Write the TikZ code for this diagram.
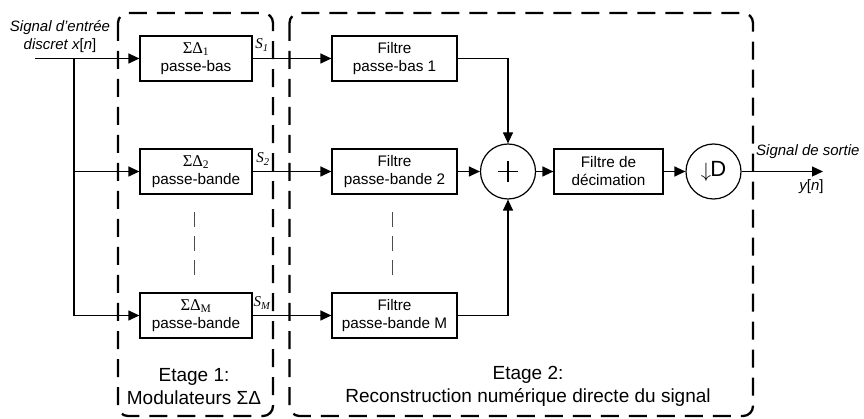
\documentclass[tikz,border=0pt]{standalone}
\usepackage{fontspec}
\setmainfont{Liberation Sans}
\newfontfamily\grserif{Liberation Serif}
\usetikzlibrary{arrows.meta}
\newcommand{\sdgreek}[1]{{\fontsize{16.5}{18}\selectfont\grserif ΣΔ\textsubscript{#1}}}
\tikzset{
  blk/.style={draw, line width=1.2pt, minimum width=#1, minimum height=45pt, align=center, inner sep=0pt, font=\fontsize{15.3}{18}\selectfont},
  circ/.style={draw, circle, line width=1.2pt, minimum size=55pt, inner sep=0pt},
  arr/.style={line width=1.2pt, -{Triangle[length=11pt,width=10pt]}},
  wire/.style={line width=1.2pt},
  dbox/.style={line width=2.3pt, dash pattern=on 18pt off 10pt, rounded corners=10pt},
  sepline/.style={line width=1pt, gray!60!black, dash pattern=on 15pt off 9pt},
  lbl/.style={font=\fontsize{15}{18}\selectfont, inner sep=0pt},
  stage/.style={align=center, font=\fontsize{19}{23}\selectfont, inner sep=0pt},
  slab/.style={font=\fontsize{15}{18}\selectfont\grserif\itshape, inner sep=0pt}
}
\begin{document}
\begin{tikzpicture}[x=1pt,y=-1pt]
\useasboundingbox (0,0) rectangle (864,419);
% dashed stage boxes
\draw[dbox] (118,13) rectangle (273,416);
\draw[dbox] (289.5,13) rectangle (753,416);
% modulators
\node[blk=112pt] (m1) at (196,58.5) {\sdgreek{1}\\passe-bas};
\node[blk=112pt] (m2) at (196,171.5) {\sdgreek{2}\\passe-bande};
\node[blk=112pt] (mM) at (196,315.5) {\sdgreek{M}\\passe-bande};
% filters
\node[blk=125pt] (f1) at (394.5,58.5) {Filtre\\passe-bas 1};
\node[blk=125pt] (f2) at (394.5,171.5) {Filtre\\passe-bande 2};
\node[blk=125pt] (fM) at (394.5,315.5) {Filtre\\passe-bande M};
% sum, decimation, downsampler
\node[circ] (sum) at (508,171.5) {};
\draw[wire] ([xshift=-10pt]sum.center) -- ([xshift=10pt]sum.center);
\draw[wire] ([yshift=-10.5pt]sum.center) -- ([yshift=10.5pt]sum.center);
\node[blk=109pt] (dec) at (608.5,171.5) {Filtre de\\décimation};
\node[circ, font=\fontsize{22}{22}\selectfont] (down) at (713.5,171.5) {\raisebox{-1pt}{$\fontsize{26}{26}\selectfont\downarrow$}\kern-1pt D};
% input
\coordinate (in) at (35,58.5);
\coordinate (tr) at (74,58.5);
\coordinate (out) at (823,171.5);
\node[lbl, align=center] (intxt) at (60,36.5) {\itshape Signal d’entrée\\{\itshape discret x}[{\itshape n}]};
\draw[arr] (in) -- (m1);
\draw[arr] (tr) |- (m2);
\draw[arr] (tr) |- (mM);
% modulators to filters
\draw[arr] (m1) -- (f1);
\draw[arr] (m2) -- (f2);
\draw[arr] (mM) -- (fM);
% filters to sum
\draw[arr] (f1.east) -| (sum.north);
\draw[arr] (f2) -- (sum);
\draw[arr] (fM.east) -| (sum.south);
\draw[arr] (sum) -- (dec);
\draw[arr] (dec) -- (down);
\draw[arr] (down) -- (out);
% S labels
\node[slab] (s1) at (262,45) {S\textsubscript{1}};
\node[slab] (s2) at (263,159) {S\textsubscript{2}};
\node[slab] (sM) at (262,303) {S\textsubscript{M}};
% output labels
\node[lbl, anchor=west] (outtxt) at (756,151.7) {\itshape Signal de sortie};
\node[lbl] (ytxt) at (811.5,186.7) {{\itshape y}[{\itshape n}]};
% separators
\draw[sepline] (194,212) -- (194,277);
\draw[sepline] (392,212) -- (392,277);
% stage labels
\node[stage] (st1) at (194,386.5) {Etage 1:\\Modulateurs ΣΔ};
\node[stage] (st2) at (528,386.5) {Etage 2:\\Reconstruction numérique directe du signal};
\end{tikzpicture}
\end{document}
